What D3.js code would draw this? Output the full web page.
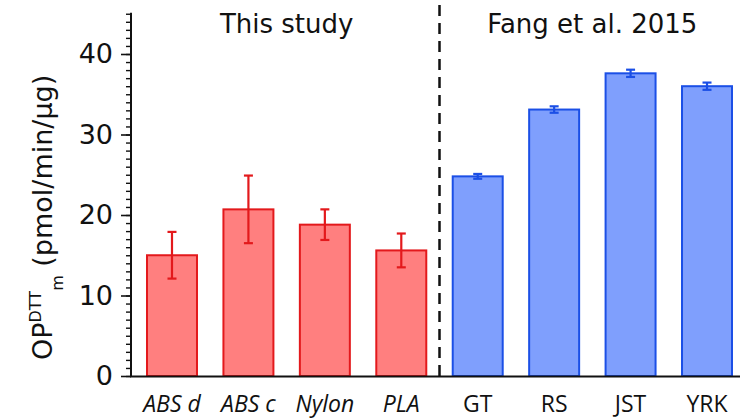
<!DOCTYPE html>
<html>
<head>
<meta charset="utf-8">
<script src="https://cdn.jsdelivr.net/npm/d3@7"></script>
<style>
  html, body { margin: 0; padding: 0; background: #fff; }
  svg { display: block; }
</style>
</head>
<body>
<svg id="chart" width="740" height="420"></svg>
<script>
// Filament emissions measured here vs. ambient sites from Fang et al. (2015)
const studyCategories = ["ABS d", "ABS c", "Nylon", "PLA"];
const studyValues     = [15.0, 20.7, 18.8, 15.6];
const studyErrors     = [2.9, 4.2, 1.9, 2.1];

const fangCategories  = ["GT", "RS", "JST", "YRK"];
const fangValues      = [24.8, 33.1, 37.6, 36.0];
const fangErrors      = [0.3, 0.4, 0.45, 0.45];

const groupTitles     = ["This study", "Fang et al. 2015"];
const yTicks          = [0, 10, 20, 30, 40];

const svg = d3.select("#chart");

const axisX = 131, baseY = 376, topY = 13.75;

const rows = [
  ...studyCategories.map((c, i) => ({ cat: c, v: studyValues[i], e: studyErrors[i], grp: 0 })),
  ...fangCategories.map((c, i) => ({ cat: c, v: fangValues[i], e: fangErrors[i], grp: 1 }))
];

const x = d3.scaleBand()
  .domain(rows.map(d => d.cat))
  .range([147, 732])
  .paddingInner(0.346)
  .paddingOuter(0);

const y = d3.scaleLinear().domain([0, 45]).range([baseY, topY]);

const fills   = ["#ff7f7f", "#7f9ffd"];
const strokes = ["#e3191c", "#1b4fe6"];

// bars
svg.append("g").selectAll("rect")
  .data(rows).join("rect")
  .attr("x", d => x(d.cat))
  .attr("y", d => y(d.v))
  .attr("width", x.bandwidth())
  .attr("height", d => y(0) - y(d.v))
  .attr("fill", d => fills[d.grp])
  .attr("stroke", d => strokes[d.grp])
  .attr("stroke-width", 2);

// error bars
const eb = svg.append("g").selectAll("g").data(rows).join("g")
  .attr("stroke", d => strokes[d.grp])
  .attr("stroke-width", 2.2);
eb.append("line")
  .attr("x1", d => x(d.cat) + x.bandwidth() / 2)
  .attr("x2", d => x(d.cat) + x.bandwidth() / 2)
  .attr("y1", d => y(d.v - d.e))
  .attr("y2", d => y(d.v + d.e));
[1, -1].forEach(s => {
  eb.append("line")
    .attr("x1", d => x(d.cat) + x.bandwidth() / 2 - 4.5)
    .attr("x2", d => x(d.cat) + x.bandwidth() / 2 + 4.5)
    .attr("y1", d => y(d.v + s * d.e))
    .attr("y2", d => y(d.v + s * d.e));
});

// group divider
const lastStudy = x(studyCategories[studyCategories.length - 1]) + x.bandwidth();
const firstFang = x(fangCategories[0]);
const divX = (lastStudy + firstFang) / 2;
svg.append("line")
  .attr("x1", divX).attr("x2", divX)
  .attr("y1", 5).attr("y2", baseY)
  .attr("stroke", "#111")
  .attr("stroke-width", 2.5)
  .attr("stroke-dasharray", "11,7");

// group titles
[studyCategories, fangCategories].forEach((cats, gi) => {
  const cx = (x(cats[0]) + x(cats[cats.length - 1]) + x.bandwidth()) / 2;
  svg.append("text")
    .attr("x", cx).attr("y", 33)
    .attr("text-anchor", "middle")
    .attr("font-family", "DejaVu Sans")
    .attr("font-size", 26)
    .attr("fill", "#111")
    .text(groupTitles[gi]);
});

// y axis: major ticks every 10, minor every 1
const yAxis = svg.append("g").attr("transform", `translate(${axisX},0)`);
yAxis.call(d3.axisLeft(y).tickValues(d3.range(0, 46, 1)).tickSize(5).tickFormat(""))
  .call(g => g.select(".domain").remove())
  .call(g => g.selectAll(".tick line").attr("stroke", "#111").attr("stroke-width", 1.4));
yAxis.append("g")
  .call(d3.axisLeft(y).tickValues(yTicks).tickSize(10).tickPadding(8))
  .call(g => g.select(".domain").remove())
  .call(g => g.selectAll(".tick line").attr("stroke", "#111").attr("stroke-width", 1.6))
  .call(g => g.selectAll(".tick text")
    .attr("font-family", "DejaVu Sans")
    .attr("font-size", 27)
    .attr("fill", "#111"));
yAxis.append("line")
  .attr("x1", 0).attr("x2", 0)
  .attr("y1", topY - 1).attr("y2", baseY + 1)
  .attr("stroke", "#111").attr("stroke-width", 2);

// x baseline and category labels
svg.append("line")
  .attr("x1", axisX - 1).attr("x2", 740)
  .attr("y1", baseY + 0.5).attr("y2", baseY + 0.5)
  .attr("stroke", "#111").attr("stroke-width", 2);

svg.append("g").selectAll("text")
  .data(rows).join("text")
  .attr("x", d => x(d.cat) + x.bandwidth() / 2)
  .attr("y", 412)
  .attr("text-anchor", "middle")
  .attr("font-family", "Open Sans")
  .attr("font-size", 23)
  .attr("font-style", d => d.grp === 0 ? "italic" : "normal")
  .attr("fill", "#111")
  .text(d => d.cat);

// y axis title: OP^DTT_m (pmol/min/µg)
const yt = svg.append("text")
  .attr("transform", "translate(52,360) rotate(-90)")
  .attr("font-family", "DejaVu Sans")
  .attr("font-size", 27)
  .attr("fill", "#111");
yt.append("tspan").text("OP");
yt.append("tspan").attr("font-size", 16).attr("dy", -11).text("DTT");
yt.append("tspan").attr("font-size", 16).attr("dy", 22).text("m");
yt.append("tspan").attr("dy", -11).text(" (pmol/min/\u00b5g)");
</script>
</body>
</html>
